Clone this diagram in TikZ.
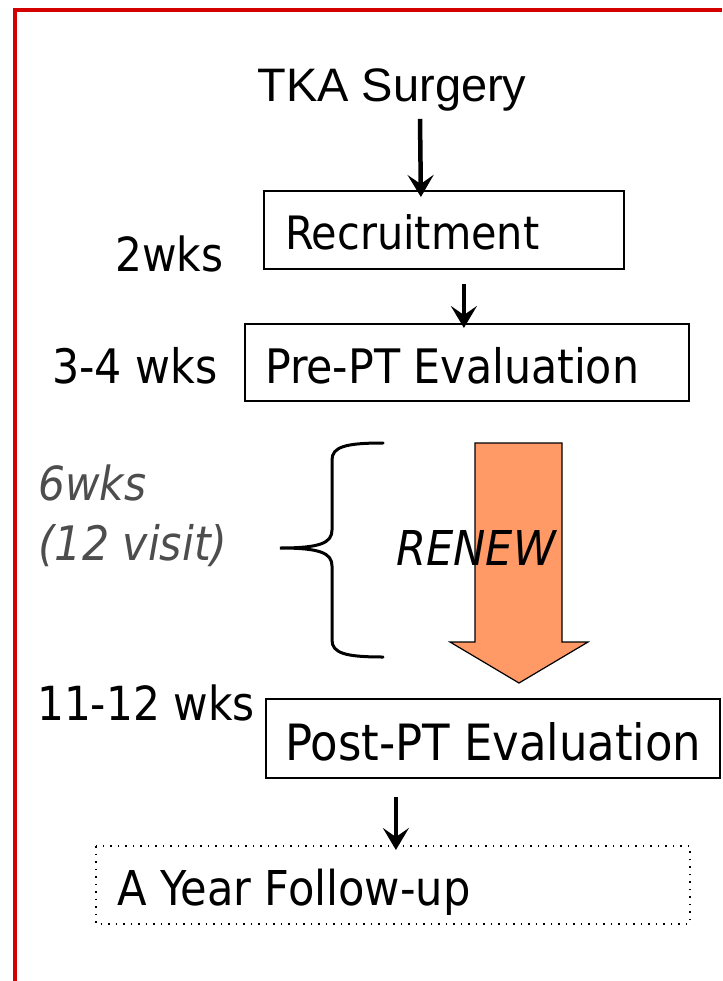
\documentclass[tikz,border=0pt]{standalone}
\usepackage{fontspec}
\usetikzlibrary{arrows.meta,calc}
\newfontfamily\tah{DejaVu Sans Condensed}
\newfontfamily\ari{Liberation Sans}
\definecolor{framered}{HTML}{D40000}
\definecolor{salmon}{HTML}{FF9966}
\definecolor{greytxt}{HTML}{4D4D4D}
\newcommand\fsz[1]{\fontsize{#1}{#1}\selectfont}
\begin{document}
\begin{tikzpicture}[x=1pt,y=-1pt,
  lbl/.style={anchor=base west, inner sep=0, font=\tah\fsz{#1}},
  ilbl/.style={anchor=base west, inner sep=0, font=\tah\itshape\fsz{#1}},
  boxnode/.style={draw, line width=1.8, anchor=north west, inner sep=0},
  flow/.style={line width=4.5, -{Stealth[length=22,width=26,inset=9]}},
]
\useasboundingbox (0,0) rectangle (722,981);
\draw[framered, line width=4] (14.5,981) -- (14.5,10.5) -- (722,10.5);

\node[anchor=base, inner sep=0, font=\ari\fsz{47}] (tka) at (392,102) {TKA Surgery};

\node[boxnode, minimum width=360, minimum height=78] (rec) at (263,190) {};
\node[lbl=46] (rect) at (285,250) {Recruitment};
\node[lbl=47] (w2) at (115,272) {2wks};

\node[boxnode, minimum width=444, minimum height=77] (pre) at (244,323) {};
\node[lbl=47.5] (pret) at (265,383) {Pre-PT Evaluation};
\node[lbl=47.5] (w34) at (52,383) {3-4 wks};

\node[ilbl=47, text=greytxt] (w6) at (38,500) {6wks};
\node[ilbl=47.5, text=greytxt] (v12) at (38,560) {(12 visit)};

\draw[line width=3, line cap=round]
  (383,443) .. controls (345,443) and (332,447) .. (332,460) -- (332,530)
  .. controls (332,543) and (320,548) .. (280,548)
  .. controls (320,548) and (332,553) .. (332,566) -- (332,640)
  .. controls (332,653) and (345,657) .. (383,657);

\draw[fill=salmon, line width=1.2, line join=miter]
  (475,443) -- (562,443) -- (562,642) -- (588,642) -- (519,683) -- (450,642) -- (475,642) -- cycle;
\node[ilbl=48] (renew) at (396,565) {RENEW};

\node[lbl=47] (w1112) at (37,720) {11-12 wks};
\node[boxnode, minimum width=454, minimum height=79] (post) at (265,698) {};
\node[lbl=50] (postt) at (285,760) {Post-PT Evaluation};

\node[boxnode, draw=none, minimum width=592, minimum height=76] (fol) at (96,846) {};
\draw[line width=1.5, dash pattern=on 1.5 off 6] (fol.north west) rectangle (fol.south east);
\node[lbl=48] (folt) at (117,905) {A Year Follow-up};

\draw[flow] ($(tka.south)+(28,7)$) -- ($(rec.north)+(-23,7)$);
\draw[flow] ($(rec.south)+(20,14)$) -- ($(pre.north)+(-3,5)$);
\draw[flow] ($(post.south)+(-97,18)$) -- ($(fol.north)+(3,4)$);
\end{tikzpicture}
\end{document}
